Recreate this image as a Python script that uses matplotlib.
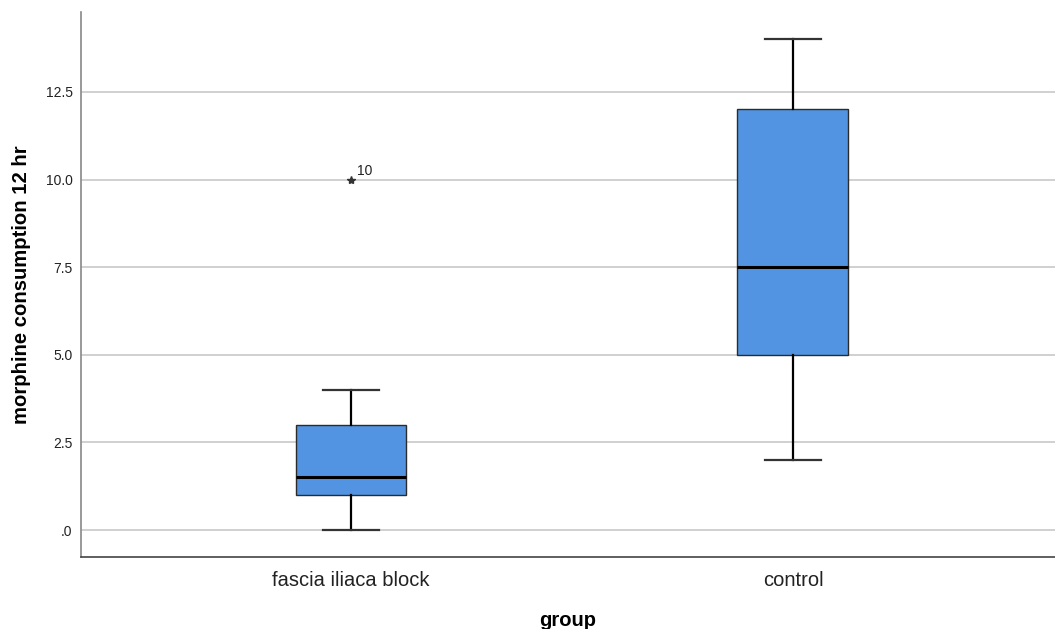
import matplotlib.pyplot as plt
from matplotlib.ticker import FuncFormatter

plt.rcParams['font.family'] = ['Liberation Sans', 'DejaVu Sans']

groups = ["fascia iliaca block", "control"]
whisker_low = [0, 2]
q1 = [1.0, 5.0]
median = [1.5, 7.5]
q3 = [3.0, 12.0]
whisker_high = [4.0, 14.0]
outliers = [[10], []]
outlier_ids = [["10"], []]

stats = []
for i, g in enumerate(groups):
    stats.append(dict(label=g, whislo=whisker_low[i], q1=q1[i], med=median[i],
                      q3=q3[i], whishi=whisker_high[i], fliers=[]))

fig = plt.figure(figsize=(10.55, 6.29), dpi=100)
ax = fig.add_axes([81 / 1055, 72 / 629, 974 / 1055, 545 / 629])

ax.bxp(stats, positions=range(len(groups)), widths=0.251, patch_artist=True,
       showfliers=False,
       boxprops=dict(facecolor="#5294e2", edgecolor="#2b2b2b", linewidth=1.0),
       medianprops=dict(color="black", linewidth=2.2),
       whiskerprops=dict(color="black", linewidth=1.6),
       capprops=dict(color="#333333", linewidth=1.6),
       capwidths=0.127, zorder=3)

# outliers drawn as stars with case labels
for i, vals in enumerate(outliers):
    for v, lab in zip(vals, outlier_ids[i]):
        ax.plot(i, v, marker="*", color="#333333", markersize=6, zorder=4)
        ax.annotate(lab, (i, v), xytext=(4, 3), textcoords="offset points",
                    fontsize=10, color="#222222")

ax.set_xlim(-0.611, 1.593)
ax.set_ylim(-0.77, 14.78)
ax.set_yticks([0, 2.5, 5, 7.5, 10, 12.5])
ax.yaxis.set_major_formatter(FuncFormatter(lambda v, p: ".0" if v == 0 else f"{v:.1f}"))
ax.set_xticks(range(len(groups)))
ax.set_xticklabels(groups, fontsize=14.5, color="#222222")
ax.tick_params(axis="y", labelsize=10, length=0, pad=6, labelcolor="#222222")
ax.tick_params(axis="x", length=0, pad=10)

ax.yaxis.grid(True, color="#c8c8c8", linewidth=1.2, zorder=0)
ax.set_axisbelow(True)

ax.spines["top"].set_visible(False)
ax.spines["right"].set_visible(False)
ax.spines["left"].set_color("#888888")
ax.spines["left"].set_linewidth(1.2)
ax.spines["bottom"].set_color("#444444")
ax.spines["bottom"].set_linewidth(1.2)

ax.set_ylabel("morphine consumption 12 hr", fontsize=14.6, fontweight="bold")
ax.yaxis.set_label_coords(-0.0513, 0.5)
ax.set_xlabel("group", fontsize=14.5, fontweight="bold", va="baseline")
ax.xaxis.set_label_coords(0.5, -0.126)

fig.savefig("out.png", dpi=100)
